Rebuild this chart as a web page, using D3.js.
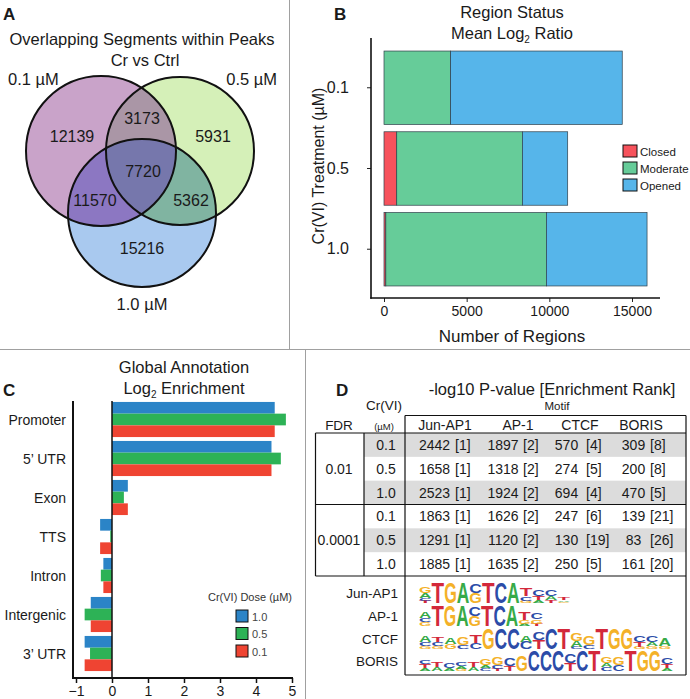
<!DOCTYPE html>
<html><head><meta charset="utf-8">
<script src="https://cdn.jsdelivr.net/npm/d3@7"></script>
<style>
body{margin:0;background:#fff}
svg text{font-family:"Liberation Sans",Arial,Helvetica,sans-serif;fill:#1a1a1a}
</style>
</head><body>
<svg id="c" width="690" height="699"></svg>
<script>
// ================= DATA =================
// Panel A – Venn
const vennSetLabels = ["0.1 µM", "0.5 µM", "1.0 µM"];
const vennRegionNames = ["0.1 only", "0.5 only", "1.0 only", "0.1∩0.5", "0.1∩1.0", "0.5∩1.0", "all"];
const vennCounts = [12139, 5931, 15216, 3173, 11570, 5362, 7720];

// Panel B – Region status
const statusDoses = ["0.1", "0.5", "1.0"];
const statusKeys = ["Closed", "Moderate", "Opened"];
const closedCounts = [0, 770, 110];
const moderateCounts = [4030, 7600, 9710];
const openedCounts = [10380, 2740, 6090];
const statusTicks = [0, 5000, 10000, 15000];

// Panel C – Global annotation
const annotCats = ["Promoter", "5’ UTR", "Exon", "TTS", "Intron", "Intergenic", "3’ UTR"];
const annotDoses = ["1.0", "0.5", "0.1"];
const enrich10 = [4.52, 4.43, 0.44, -0.33, -0.24, -0.59, -0.76];
const enrich05 = [4.83, 4.69, 0.33, -0.05, -0.31, -0.76, -0.61];
const enrich01 = [4.52, 4.43, 0.44, -0.33, -0.24, -0.59, -0.76];
const annotTicks = [-1, 0, 1, 2, 3, 4, 5];

// Panel D – Motif table
const motifNames = ["Jun-AP1", "AP-1", "CTCF", "BORIS"];
const fdrLevels = ["0.01", "0.0001"];
const crDoses = ["0.1", "0.5", "1.0", "0.1", "0.5", "1.0"];
const junLogP = [2442, 1658, 2523, 1863, 1291, 1885];
const junRank = [1, 1, 1, 1, 1, 1];
const ap1LogP = [1897, 1318, 1924, 1626, 1120, 1635];
const ap1Rank = [2, 2, 2, 2, 2, 2];
const ctcfLogP = [570, 274, 694, 247, 130, 250];
const ctcfRank = [4, 5, 4, 6, 19, 5];
const borisLogP = [309, 200, 470, 139, 83, 161];
const borisRank = [8, 8, 5, 21, 26, 20];

// Sequence logos (each position: bottom→top [letter, relative height])
const logoJunAP1 = [
  [["T",.1],["C",.15],["A",.25],["G",.3]], [["T",1]], [["G",1]], [["A",1]],
  [["G",.5],["C",.45]], [["T",1]], [["C",1]], [["A",1]],
  [["G",.12],["C",.2],["T",.35]], [["A",.15],["T",.2],["C",.3]],
  [["T",.15],["A",.2],["C",.3]], [["G",.05],["A",.08],["T",.1]]
];
const logoAP1 = [
  [["G",.2],["C",.2],["A",.3]], [["T",1]], [["G",1]], [["A",1]],
  [["G",.5],["C",.45]], [["T",1]], [["C",1]], [["A",1]],
  [["A",.1],["G",.2],["T",.35]], [["T",.12],["G",.2],["C",.3]]
];
const logoCTCF = [
  [["G",.15],["C",.2],["A",.3]], [["G",.15],["C",.2],["T",.25]], [["G",.25],["A",.3]],
  [["C",.2],["G",.4]], [["C",.3],["T",.35]], [["G",1]], [["C",1]], [["C",1]],
  [["C",.35],["A",.3]], [["T",.45],["C",.35]], [["C",1]], [["T",1]],
  [["C",.1],["A",.3],["G",.35]], [["C",.2],["G",.45]], [["T",1]], [["G",1]], [["G",1]],
  [["G",.1],["T",.25],["C",.3]], [["G",.15],["A",.2],["C",.3]], [["G",.15],["A",.35]]
];
const logoBORIS = [
  [["A",.15],["T",.2],["C",.2]], [["A",.2],["T",.25]], [["A",.15],["C",.25]],
  [["G",.1],["A",.15],["C",.2]], [["A",.2],["T",.25]], [["C",.15],["A",.15],["G",.3]],
  [["T",.1],["C",.2],["G",.4]], [["T",.25],["C",.35]], [["G",.75]], [["C",1]], [["C",1]],
  [["C",1]], [["T",.4],["C",.45]], [["C",1]], [["T",1]], [["C",.2],["A",.2],["G",.3]],
  [["C",.3],["G",.35]], [["T",1]], [["G",1]], [["G",1]], [["A",.15],["T",.2],["C",.3]]
];
const logos = [logoJunAP1, logoAP1, logoCTCF, logoBORIS];

// ================= DRAWING =================
const svg = d3.select("#c");
function txt(g, x, y, s, o = {}) {
  const t = g.append("text").attr("x", x).attr("y", y).text(s)
    .style("font-size", (o.size || 14) + "px")
    .attr("text-anchor", o.anchor || "start");
  if (o.weight) t.style("font-weight", o.weight);
  if (o.fill) t.style("fill", o.fill);
  return t;
}
function line(x1, y1, x2, y2, stroke, w) {
  svg.append("line").attr("x1", x1).attr("y1", y1).attr("x2", x2).attr("y2", y2)
    .attr("stroke", stroke).attr("stroke-width", w);
}

// panel dividers
line(289.5, 0, 289.5, 349.5, "#a0a0a0", 1);
line(0, 349.5, 690, 349.5, "#a0a0a0", 1);
line(305.5, 349.5, 305.5, 699, "#a0a0a0", 1);

// panel letters
txt(svg, 3, 20, "A", {size: 17, weight: "bold"});
txt(svg, 334, 20, "B", {size: 17, weight: "bold"});
txt(svg, 3, 396, "C", {size: 17, weight: "bold"});
txt(svg, 336, 396, "D", {size: 17, weight: "bold"});

// ---------- Panel A ----------
{
  const g = svg.append("g");
  const circ = [{cx: 101, cy: 151, r: 75}, {cx: 180, cy: 151, r: 74}, {cx: 142, cy: 213, r: 74}];
  const defs = svg.append("defs");
  circ.forEach((c, i) => {
    defs.append("clipPath").attr("id", "vc" + i).append("circle")
      .attr("cx", c.cx).attr("cy", c.cy).attr("r", c.r);
  });
  const soloCol = ["#c9a3c9", "#d5f0b8", "#a9c9ef"];
  circ.forEach((c, i) => g.append("circle").attr("cx", c.cx).attr("cy", c.cy).attr("r", c.r).attr("fill", soloCol[i]));
  const pair = (a, b, col) => g.append("g").attr("clip-path", `url(#vc${a})`).append("circle")
    .attr("cx", circ[b].cx).attr("cy", circ[b].cy).attr("r", circ[b].r).attr("fill", col);
  pair(0, 1, "#aa96a6");
  pair(0, 2, "#8c77c2");
  pair(1, 2, "#80b4a1");
  g.append("g").attr("clip-path", "url(#vc0)").append("g").attr("clip-path", "url(#vc1)")
    .append("circle").attr("cx", circ[2].cx).attr("cy", circ[2].cy).attr("r", circ[2].r).attr("fill", "#7677ac");
  circ.forEach(c => g.append("circle").attr("cx", c.cx).attr("cy", c.cy).attr("r", c.r)
    .attr("fill", "none").attr("stroke", "#111").attr("stroke-width", 2));
  const pos = [[72, 142], [213, 142], [142, 254], [142, 124], [95, 206], [191, 206], [143, 177]];
  vennCounts.forEach((v, i) => txt(g, pos[i][0], pos[i][1], String(v), {size: 16, anchor: "middle"}));
  txt(g, 142, 45, "Overlapping Segments within Peaks", {size: 16.5, anchor: "middle"});
  txt(g, 145, 66, "Cr vs Ctrl", {size: 16.5, anchor: "middle"});
  txt(g, 8, 85, vennSetLabels[0], {size: 16.5});
  txt(g, 277, 85, vennSetLabels[1], {size: 16.5, anchor: "end"});
  txt(g, 142, 310, vennSetLabels[2], {size: 16.5, anchor: "middle"});
}

// ---------- Panel B ----------
{
  const g = svg.append("g");
  const x = d3.scaleLinear().domain([0, 15000]).range([384, 632]);
  const y = d3.scaleBand().domain(statusDoses).range([47.4, 289.6]).paddingInner(0.09).paddingOuter(0.045);
  const rows = statusDoses.map((d, i) => ({dose: d, Closed: closedCounts[i], Moderate: moderateCounts[i], Opened: openedCounts[i]}));
  const stack = d3.stack().keys(statusKeys)(rows);
  const col = {Closed: "#f6525c", Moderate: "#66cc99", Opened: "#56b5ea"};
  stack.forEach(layer => {
    g.selectAll(null).data(layer).enter().append("rect")
      .attr("x", d => x(d[0])).attr("width", d => Math.max(0, x(d[1]) - x(d[0])))
      .attr("y", d => y(d.data.dose)).attr("height", y.bandwidth())
      .attr("fill", col[layer.key]).attr("stroke", "#2f3f4a").attr("stroke-width", 0.7);
  });
  const ax = g.append("g").attr("transform", "translate(0,298)")
    .call(d3.axisBottom(x).tickValues(statusTicks).tickSize(4).tickPadding(4).tickFormat(d3.format("d")));
  ax.select(".domain").remove();
  ax.selectAll("text").style("font-size", "14px").style("font-family", null);
  ax.selectAll("line").attr("stroke", "#222").attr("stroke-width", 1);
  const ay = g.append("g").attr("transform", "translate(371,0)")
    .call(d3.axisLeft(y).tickSize(4).tickPadding(18));
  ay.select(".domain").remove();
  ay.selectAll("text").style("font-size", "16px").style("font-family", null);
  ay.selectAll("line").attr("stroke", "#222").attr("stroke-width", 1);
  line(371, 38, 371, 298.8, "#111", 1.6);
  line(370.2, 298, 660, 298, "#111", 1.6);
  txt(g, 512, 18, "Region Status", {size: 16.5, anchor: "middle"});
  const t2 = txt(g, 512, 39, "Mean Log", {size: 16.5, anchor: "middle"});
  t2.append("tspan").attr("dy", 4).style("font-size", "10px").text("2");
  t2.append("tspan").attr("dy", -4).text(" Ratio");
  txt(g, 512, 342, "Number of Regions", {size: 17, anchor: "middle"});
  txt(g, 0, 0, "Cr(VI) Treatment (µM)", {size: 16, anchor: "middle"})
    .attr("transform", "translate(324,166) rotate(-90)");
  statusKeys.forEach((k, i) => {
    g.append("rect").attr("x", 623).attr("y", 145 + i * 17).attr("width", 14).attr("height", 12)
      .attr("fill", col[k]).attr("stroke", "#111").attr("stroke-width", 1);
    txt(g, 640, 155.5 + i * 17, k, {size: 11.5});
  });
}

// ---------- Panel C ----------
{
  const g = svg.append("g");
  const x = d3.scaleLinear().domain([-1, 5]).range([76, 292]);
  const y = d3.scaleBand().domain(annotCats).range([400, 673]).paddingInner(0.1).paddingOuter(0.05);
  const yi = d3.scaleBand().domain(annotDoses).range([0, y.bandwidth()]);
  const col = {"1.0": "#2b84c7", "0.5": "#2db256", "0.1": "#ef4432"};
  const series = {"1.0": enrich10, "0.5": enrich05, "0.1": enrich01};
  annotDoses.forEach(dose => {
    g.selectAll(null).data(annotCats.map((c, i) => ({c, v: series[dose][i]}))).enter().append("rect")
      .attr("x", d => Math.min(x(d.v), x(0))).attr("width", d => Math.abs(x(d.v) - x(0)))
      .attr("y", d => y(d.c) + yi(dose)).attr("height", yi.bandwidth())
      .attr("fill", col[dose]);
  });
  line(x(0), 401, x(0), 678, "#111", 1.5);
  line(73, 401, 73, 679, "#111", 2);
  line(72, 678, 293, 678, "#111", 2);
  const ax = g.append("g").attr("transform", "translate(0,678)")
    .call(d3.axisBottom(x).tickValues(annotTicks).tickSize(5).tickPadding(3).tickFormat(d3.format("d")));
  ax.select(".domain").remove();
  ax.selectAll("text").style("font-size", "14px").style("font-family", null);
  ax.selectAll("line").attr("stroke", "#111").attr("stroke-width", 1.5);
  annotCats.forEach(c => txt(g, 66, y(c) + y.bandwidth() / 2 + 5, c, {size: 14, anchor: "end"}));
  txt(g, 184, 373, "Global Annotation", {size: 16.5, anchor: "middle"});
  const t2 = txt(g, 184, 394, "Log", {size: 16.5, anchor: "middle"});
  t2.append("tspan").attr("dy", 4).style("font-size", "10px").text("2");
  t2.append("tspan").attr("dy", -4).text(" Enrichment");
  txt(g, 250, 601, "Cr(VI) Dose (µM)", {size: 11, anchor: "middle", fill: "#333"});
  annotDoses.forEach((d, i) => {
    g.append("rect").attr("x", 236).attr("y", 610 + i * 17.5).attr("width", 12).attr("height", 12)
      .attr("fill", col[d]).attr("stroke", "#111").attr("stroke-width", 1);
    txt(g, 252, 620.5 + i * 17.5, d, {size: 11, fill: "#444"});
  });
}

// ---------- Panel D ----------
{
  const g = svg.append("g");
  const top = 433, bottom = 576, rowH = (bottom - top) / 6;
  [0, 2, 4].forEach(r => g.append("rect").attr("x", 364).attr("y", top + r * rowH)
    .attr("width", 686 - 364).attr("height", rowH).attr("fill", "#dcdcdc"));
  const L = (a, b, c, d, w = 1.2) => g.append("line").attr("x1", a).attr("y1", b).attr("x2", c).attr("y2", d)
    .attr("stroke", "#111").attr("stroke-width", w);
  L(405, 415.5, 686, 415.5);
  L(315.5, top, 686, top);
  L(315.5, top + 3 * rowH, 686, top + 3 * rowH);
  L(315.5, bottom, 686, bottom);
  L(315.5, top, 315.5, bottom);
  L(364, top, 364, bottom);
  L(405, 415.5, 405, 675);
  L(686, 415.5, 686, 675);
  L(405, 675, 686, 675);
  txt(g, 552, 395, "-log10 P-value [Enrichment Rank]", {size: 16.5, anchor: "middle"});
  txt(g, 557, 410, "Motif", {size: 11.5, anchor: "middle"});
  txt(g, 384, 410, "Cr(VI)", {size: 13.5, anchor: "middle"});
  txt(g, 384, 430, "(µM)", {size: 9.5, anchor: "middle"});
  txt(g, 339, 430, "FDR", {size: 13.5, anchor: "middle"});
  const colNum = [434.5, 503, 566.5, 633.5];
  const colBr = [455, 523, 586, 650];
  const headX = [445, 518, 580, 641];
  motifNames.forEach((m, i) => txt(g, headX[i], 430, m, {size: 14, anchor: "middle"}));
  fdrLevels.forEach((f, i) => txt(g, 339, top + (i * 3 + 1.5) * rowH + 5, f, {size: 14, anchor: "middle"}));
  const vals = [junLogP, ap1LogP, ctcfLogP, borisLogP];
  const ranks = [junRank, ap1Rank, ctcfRank, borisRank];
  crDoses.forEach((d, r) => {
    const yb = top + (r + 0.5) * rowH + 5;
    txt(g, 386, yb, d, {size: 14, anchor: "middle"});
    vals.forEach((arr, c) => {
      txt(g, colNum[c], yb, String(arr[r]), {size: 14, anchor: "middle"});
      txt(g, colBr[c], yb, "[" + ranks[c][r] + "]", {size: 14});
    });
  });
  // logos
  const letterColor = {A: "#37aa48", C: "#2c4ca8", G: "#f4b128", T: "#d3283b"};
  const logoTop = [582.5, 605.5, 628.5, 650.5];
  const logoEnd = [570, 543, 671, 673];
  const logoH = 20.5;
  logos.forEach((lg, li) => {
    txt(g, 398, logoTop[li] + 15, motifNames[li], {size: 13.5, anchor: "end"});
    const x0 = 419, colW = (logoEnd[li] - x0) / lg.length;
    lg.forEach((stackPos, i) => {
      let yb = logoTop[li] + logoH;
      stackPos.forEach(([Lt, f]) => {
        const h = f * logoH;
        if (h < 0.4) return;
        const t = g.append("text").text(Lt).attr("x", 0).attr("y", 0)
          .style("font-size", "100px").style("font-weight", "bold").style("fill", letterColor[Lt]);
        const w = t.node().getComputedTextLength();
        t.attr("transform", `translate(${x0 + i * colW},${yb}) scale(${colW / w},${h / 70})`);
        yb -= h;
      });
    });
  });
}
</script>
</body></html>
